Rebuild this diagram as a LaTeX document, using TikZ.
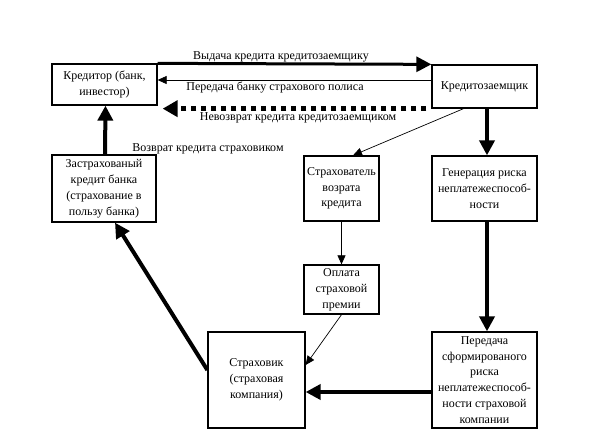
\documentclass[tikz,border=0pt]{standalone}
\usepackage{fontspec}
\setmainfont{Liberation Serif}
\usetikzlibrary{arrows.meta,positioning}

\begin{document}
\begin{tikzpicture}[x=1pt,y=-1pt
				,font={\fontsize{12}{15.8}\selectfont}
				,box/.style={draw,line width=1.3pt,align=center,inner sep=1pt}
				,thinArr/.style={-{Triangle[length=9pt,width=8pt]},line width=0.7pt}
				,thickArr/.style={-{Triangle[length=15pt,width=15pt]},line width=4pt}
				,lbl/.style={inner sep=1pt}]

		\useasboundingbox (0,0) rectangle (590,445);

		% boxes
		\node[box, minimum width=105pt, minimum height=41pt] (kreditor) at (104.5,84.5) {Кредитор (банк,\\инвестор)};
		\node[box, minimum width=105pt, minimum height=43pt] (zaemshik) at (484.5,86.5) {Кредитозаемщик};
		\node[box, minimum width=104pt, minimum height=67pt] (zastrah) at (104,188.5) {Застрахованый\\кредит банка\\(страхование в\\пользу банка)};
		\node[box, minimum width=75pt, minimum height=65pt] (strahovatel) at (341.5,188.5) {Страхователь\\возрата\\кредита};
		\node[box, minimum width=105pt, minimum height=65pt] (generacia) at (484.5,188.5) {Генерация риска\\неплатежеспособ-\\ности};
		\node[box, minimum width=75pt, minimum height=49pt] (oplata) at (341.5,289.5) {Оплата\\страховой\\премии};
		\node[box, minimum width=97pt, minimum height=96pt] (strahovik) at (256.5,380) {Страховик\\(страховая\\компания)};
		\node[box, minimum width=105pt, minimum height=96pt] (peredacha) at (484.5,380) {Передача\\сформированого\\риска\\неплатежеспособ-\\ности страховой\\компании};

		% labels
		\node[lbl] (vydacha) at (281,57) {Выдача кредита кредитозаемщику};
		\node[lbl] (polis) at (275,87) {Передача банку страхового полиса};
		\node[lbl] (nevozvrat) at (298,118) {Невозврат кредита кредитозаемщиком};
		\node[lbl] (vozvrat) at (208,149) {Возврат кредита страховиком};

		% connectors
		\draw[thickArr, line width=3pt] (kreditor.north east) -- (zaemshik.north west);
		\draw[thinArr] (zaemshik.west |- 0,80) -- (kreditor.east |- 0,80);
		\draw[-{Triangle[length=15pt,width=16pt]}, line width=5pt, dash pattern=on 5pt off 5pt, shorten >=5pt]
			([xshift=-5pt]zaemshik.south west) -- (kreditor.east |- zaemshik.south);
		\draw[thickArr] ([xshift=2.5pt]zaemshik.south) -- ([xshift=2.5pt]generacia.north);
		\draw[thinArr] ([xshift=-21pt]zaemshik.south) -- ([xshift=11.5pt]strahovatel.north);
		\draw[thinArr] (strahovatel.south) -- (oplata.north);
		\draw[thinArr] (oplata.south) -- ([yshift=15pt]strahovik.east);
		\draw[thickArr] ([xshift=2.5pt]generacia.south) -- ([xshift=2.5pt]peredacha.north);
		\draw[thickArr] ([yshift=-12pt]peredacha.west) -- ([yshift=-12pt]strahovik.east);
		\draw[thickArr] ([yshift=10pt]strahovik.west) -- ([xshift=11pt]zastrah.south);
		\draw[thickArr] ([xshift=1pt]zastrah.north) -- ([xshift=1pt]kreditor.south);
\end{tikzpicture}
\end{document}
